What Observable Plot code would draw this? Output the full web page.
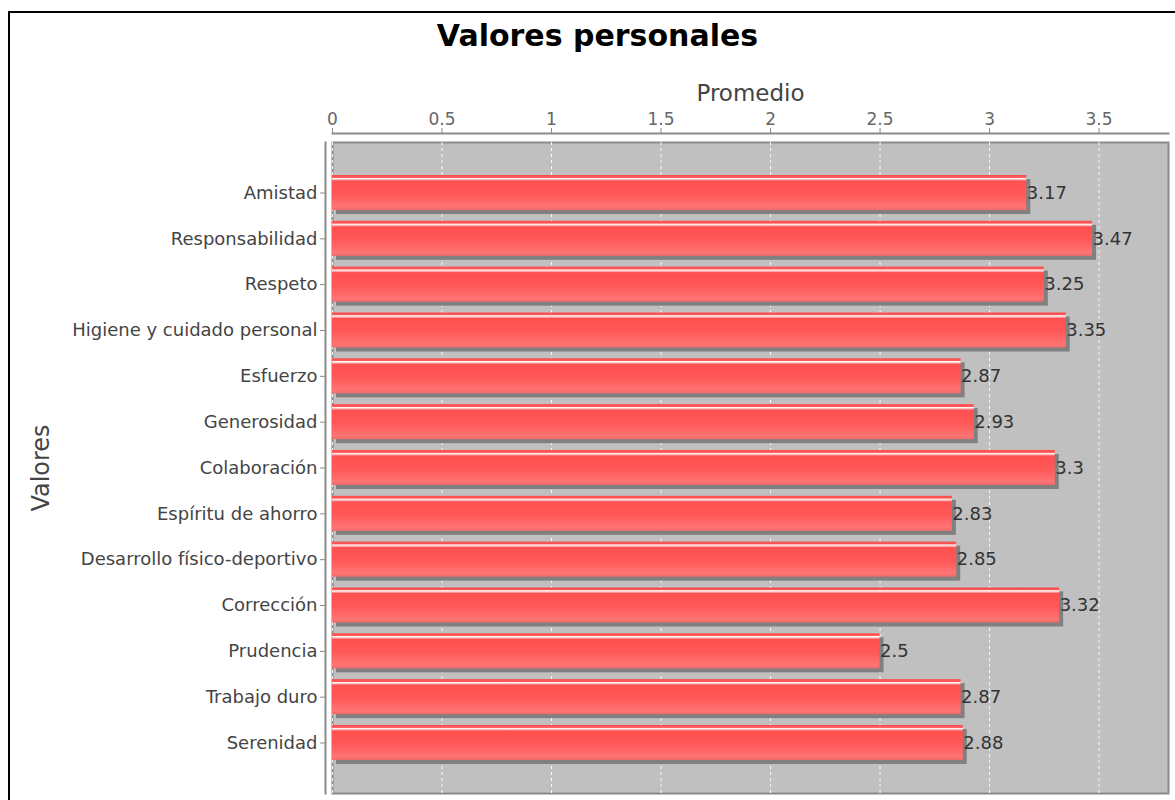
<!DOCTYPE html>
<html>
<head>
<meta charset="utf-8">
<script src="https://cdn.jsdelivr.net/npm/d3@7"></script>
<script src="https://cdn.jsdelivr.net/npm/@observablehq/plot@0.6"></script>
<style>
  html, body { margin: 0; padding: 0; background: #fff; }
  #wrap { position: relative; width: 1175px; height: 800px; overflow: hidden; }
  #frame { position: absolute; left: 8px; top: 11px; width: 1300px; height: 900px;
           border-left: 2px solid #000; border-top: 2px solid #000; }
  #title { position: absolute; left: 0; top: 21px; width: 1195px; text-align: center; line-height: 30px;
           font-family: "DejaVu Sans", sans-serif; font-weight: bold; font-size: 30px; color: #000; }
  #chart { position: absolute; left: 0; top: 0; }
</style>
</head>
<body>
<div id="wrap">
  <div id="frame"></div>
  <div id="chart"></div>
  <div id="title">Valores personales</div>
</div>
<script>
const categories = ["Amistad", "Responsabilidad", "Respeto", "Higiene y cuidado personal", "Esfuerzo",
  "Generosidad", "Colaboración", "Espíritu de ahorro", "Desarrollo físico-deportivo", "Corrección",
  "Prudencia", "Trabajo duro", "Serenidad"];
const values = [3.17, 3.47, 3.25, 3.35, 2.87, 2.93, 3.3, 2.83, 2.85, 3.32, 2.5, 2.87, 2.88];
const xTicks = [0, 0.5, 1, 1.5, 2, 2.5, 3, 3.5];
const xLabel = "Promedio";
const yLabel = "Valores";

const data = categories.map((c, i) => ({category: c, value: values[i]}));
const font = "DejaVu Sans, sans-serif";

const chart = Plot.plot({
  width: 1175,
  height: 800,
  marginLeft: 332,
  marginRight: 7,
  marginTop: 142,
  marginBottom: 7,
  style: {fontFamily: font, fontSize: "16px", background: "transparent", overflow: "visible"},
  x: {domain: [0, d3.max(values) * 1.1]},
  y: {domain: categories, paddingInner: 0.236, paddingOuter: 0.72, round: false},
  marks: [
    Plot.frame({fill: "#c0c0c0", stroke: "#8a8a8a", strokeWidth: 2}),
    Plot.gridX(xTicks, {stroke: "#ffffff", strokeOpacity: 0.9, strokeDasharray: "3,3", strokeWidth: 1}),
    Plot.barX(data, {y: "category", x: "value", fill: "#808080", dx: 4, dy: 4}),
    Plot.barX(data, {y: "category", x: "value", fill: "url(#barGrad)"}),
    Plot.text(data, {y: "category", x: "value", text: d => String(d.value), textAnchor: "start",
      dx: 0, fill: "#333", fontSize: 18}),
    Plot.frame({anchor: "top", dy: -9, stroke: "#8a8a8a", strokeWidth: 2}),
    Plot.axisX(xTicks, {anchor: "top", dy: -9, tickSize: 6, tickPadding: 3, stroke: "#8a8a8a",
      fill: "#666", fontSize: 17, label: null, tickFormat: d => String(d)}),
    Plot.frame({anchor: "left", dx: -7, stroke: "#8a8a8a", strokeWidth: 2}),
    Plot.axisY({anchor: "left", dx: -7, tickSize: 5, tickPadding: 3, stroke: "#8a8a8a",
      fill: "#444", fontSize: 18, label: null}),
    Plot.text([xLabel], {frameAnchor: "top", lineAnchor: "bottom", dy: -42, fill: "#444", fontSize: 23}),
    Plot.text([yLabel], {frameAnchor: "left", textAnchor: "middle", dx: -291, rotate: -90, fill: "#444", fontSize: 24})
  ]
});

const ns = "http://www.w3.org/2000/svg";
const defs = document.createElementNS(ns, "defs");
defs.innerHTML = `<linearGradient id="barGrad" x1="0" y1="0" x2="0" y2="1">
  <stop offset="0" stop-color="#ff4a4a"/>
  <stop offset="0.07" stop-color="#ff5a5a"/>
  <stop offset="0.09" stop-color="#ffffff"/>
  <stop offset="0.13" stop-color="#ffb8b8"/>
  <stop offset="0.17" stop-color="#ff5050"/>
  <stop offset="0.55" stop-color="#ff5858"/>
  <stop offset="0.9" stop-color="#ff7474"/>
  <stop offset="1" stop-color="#f06a6a"/>
</linearGradient>`;
chart.insertBefore(defs, chart.firstChild);
document.getElementById("chart").appendChild(chart);
</script>
</body>
</html>
